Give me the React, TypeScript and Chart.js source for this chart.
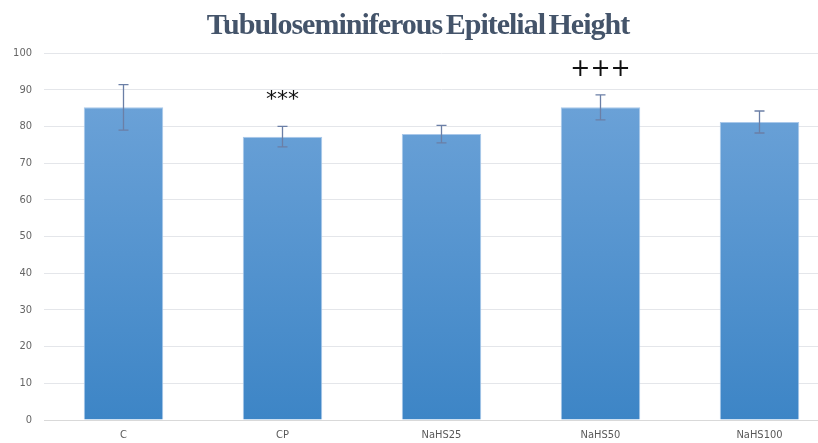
import React, { useEffect, useRef } from "react";
import { Chart, registerables } from "chart.js";

Chart.register(...registerables);

const categories = ["C", "CP", "NaHS25", "NaHS50", "NaHS100"];
const means = [85.2, 77.2, 77.9, 85.2, 81.2];
const errors = [6.2, 2.8, 2.4, 3.4, 3.0];
const marks = ["", "***", "", "+++", ""];
const markValues = [0, 87.2, 0, 95.5, 0];
const yTicks = [0, 10, 20, 30, 40, 50, 60, 70, 80, 90, 100];

const errorBarPlugin = {
  id: "errorBars",
  afterDatasetsDraw(chart: any) {
    const { ctx, scales } = chart;
    const x = scales.x;
    const y = scales.y;
    ctx.save();
    ctx.strokeStyle = "#6b7fa6";
    ctx.lineWidth = 1.3;
    means.forEach((m, i) => {
      const cx = x.getPixelForValue(i);
      const top = y.getPixelForValue(m + errors[i]);
      const bot = y.getPixelForValue(m - errors[i]);
      ctx.beginPath();
      ctx.moveTo(cx, top);
      ctx.lineTo(cx, bot);
      ctx.moveTo(cx - 5, top);
      ctx.lineTo(cx + 5, top);
      ctx.moveTo(cx - 5, bot);
      ctx.lineTo(cx + 5, bot);
      ctx.stroke();
    });
    ctx.fillStyle = "#111111";
    ctx.textAlign = "center";
    ctx.textBaseline = "middle";
    marks.forEach((t, i) => {
      if (!t) return;
      const cx = x.getPixelForValue(i);
      const cy = y.getPixelForValue(markValues[i]);
      ctx.font = t === "+++" ? "24px 'DejaVu Sans'" : "22px 'DejaVu Sans'";
      ctx.fillText(t, cx, cy);
    });
    ctx.restore();
  },
};

export default function App() {
  const ref = useRef<HTMLCanvasElement>(null);
  useEffect(() => {
    document.documentElement.style.overflow = "hidden";
    document.body.style.overflow = "hidden";
    const chart = new Chart(ref.current!, {
      type: "bar",
      data: {
        labels: categories,
        datasets: [
          {
            data: means,
            backgroundColor: (c: any) => {
              const area = c.chart.chartArea;
              if (!area) return "#5b9bd5";
              const g = c.chart.ctx.createLinearGradient(0, area.top, 0, area.bottom);
              g.addColorStop(0, "#72a6da");
              g.addColorStop(1, "#3d85c6");
              return g;
            },
            borderColor: "#a9c8ea",
            borderWidth: 1,
            barPercentage: 0.5,
            categoryPercentage: 1,
          },
        ],
      },
      options: {
        animation: false,
        responsive: false,
        maintainAspectRatio: false,
        layout: { padding: { top: 53, left: 0, right: 0, bottom: 0 } },
        plugins: { legend: { display: false }, tooltip: { enabled: false } },
        scales: {
          x: {
            afterFit: (s: any) => {
              s.height = 23;
            },
            grid: { display: false, drawTicks: false },
            border: { display: true, color: "#d9d9d9" },
            ticks: {
              color: "#595959",
              font: { family: "'Liberation Sans Narrow', 'DejaVu Sans Condensed', sans-serif", size: 11 },
              padding: 9,
            },
          },
          y: {
            min: 0,
            max: 100,
            afterBuildTicks: (s: any) => {
              s.ticks = yTicks.map((v) => ({ value: v }));
            },
            afterFit: (s: any) => {
              s.width = 44;
            },
            grid: { color: "#e4e6ea", drawTicks: false },
            border: { display: false },
            ticks: {
              color: "#666666",
              padding: 12,
              font: { family: "'Liberation Sans Narrow', 'DejaVu Sans Condensed', sans-serif", size: 11 },
            },
          },
        },
      },
      plugins: [errorBarPlugin],
    });
    return () => chart.destroy();
  }, []);
  return (
    <div style={{ position: "absolute", left: 0, top: 0, width: 839, height: 443, background: "#fff" }}>
      <canvas ref={ref} width={839} height={443} style={{ position: "absolute", left: 0, top: 0 }} />
      <div
        style={{
          position: "absolute",
          left: 0,
          width: 836,
          top: 7,
          textAlign: "center",
          fontFamily: "'Liberation Serif', serif",
          fontWeight: "bold",
          fontSize: 30,
          color: "#44546a",
          letterSpacing: "-1px",
          wordSpacing: "-3px",
          whiteSpace: "nowrap",
        }}
      >
        Tubuloseminiferous Epitelial Height
      </div>
    </div>
  );
}
